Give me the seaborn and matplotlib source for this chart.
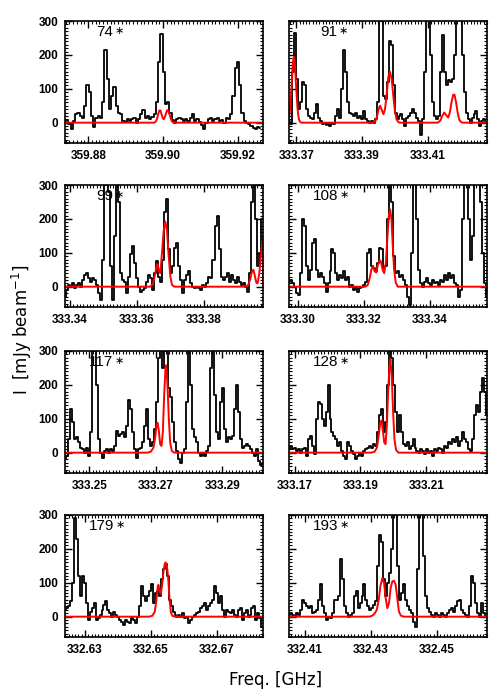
import numpy as np
import pandas as pd
import matplotlib
matplotlib.use("Agg")
import matplotlib.pyplot as plt
from matplotlib.ticker import MultipleLocator
import seaborn as sns

sns.set_style("ticks")
plt.rcParams['font.family'] = ['Liberation Sans', 'DejaVu Sans']
plt.rcParams['text.color'] = 'black'
plt.rcParams['axes.labelcolor'] = 'black'
plt.rcParams['xtick.color'] = 'black'
plt.rcParams['ytick.color'] = 'black'

# ---------------- data ----------------
panel_ids = ['74', '91', '99', '108', '117', '128', '179', '193']

# left / right frequency edge of each panel [GHz]
f_lo = [359.8738, 333.3678, 333.3385, 333.2973, 333.2427, 333.1683, 332.6239, 332.4053]
f_hi = [359.9267, 333.4280, 333.3977, 333.3574, 333.3022, 333.2284, 332.6841, 332.4651]
tick_start = [359.88, 333.37, 333.34, 333.30, 333.25, 333.17, 332.63, 332.41]

chan_width = 0.0006  # GHz, channels start at f_lo

# observed spectra [mJy/beam]
spec_74 = [5, 8, -5, -18, 5, 25, 30, 20, 15, 50, 110, 90, 20, -12, 15, 20, 15, 60, 215, 130,
           40, 80, 105, 50, 30, 25, 5, 3, 10, 5, 12, 15, 0, 10, 25, 38, 15, 20, 10, 18,
           25, 60, 180, 262, 150, 55, 62, 30, 8, 0, 10, 15, 10, 5, 12, 5, 15, 25, 5, 10,
           2, -8, -18, 0, 10, 15, 5, 10, 15, 5, 8, 0, 15, 10, 25, 80, 160, 178, 110, 30,
           5, 0, -5, -10, -15, -18, -12, -15]
spec_91 = [5, -5, 150, 265, 130, 40, 60, 120, 110, 40, 20, 15, 10, 30, 55, 15, 5, -5, 0, -8,
           -5, -10, 0, -5, 20, 40, 15, 100, 215, 150, 60, 30, 25, 20, 30, 15, 20, 10, 35, 10,
           5, 0, 5, -2, 10, 60, 330, 300, 80, 70, 120, 240, 230, 110, 30, 10, 20, 25, 10, -10,
           15, 20, 30, 40, 30, 15, 5, -35, 10, 150, 330, 330, 200, 60, 20, 10, 20, 150, 260, 150,
           110, 125, 120, 130, 200, 310, 330, 330, 200, 90, 30, 10, 0, 15, 25, 35, 10, -10, 5, 10,
           0]
spec_99 = [-30, -10, 5, 0, 10, -5, 5, 10, 0, 20, 35, 40, 25, 15, 25, 20, 5, -20, -40, 80,
           300, 330, 280, 60, -40, 150, 330, 250, 40, 20, 15, -20, 30, 95, 120, 70, 25, 0, -15, -10,
           -5, 15, 35, 25, -10, 40, 75, 30, 15, 80, 220, 260, 110, 40, 60, 115, 130, 60, 20, -20,
           20, 35, 45, 10, 0, -5, 0, -5, -10, 5, 0, 10, 30, 25, 80, 180, 210, 110, 30, 20,
           30, 40, 15, 35, 20, 10, 30, 15, 5, 10, 0, -15, 40, 250, 330, 200, 60, 100, 200]
spec_108 = [15, 20, 10, 0, -20, -25, 40, 200, 180, 60, 20, 50, 130, 140, 50, 30, 40, 30, 10, -15,
            10, 45, 110, 100, 40, 20, 35, 25, 45, 20, 30, 0, 5, -10, 0, -15, -5, 0, 5, 15,
            100, 110, 60, 55, 45, 70, 115, 110, 55, 60, 200, 330, 250, 90, 40, 45, 30, 35, 20, 5,
            -30, -55, 100, 330, 330, 200, 50, 10, 0, 15, 25, 10, 5, 20, 10, 15, 5, 20, 15, 35,
            20, 40, 25, 35, 10, 5, -30, -10, 200, 330, 330, 200, 80, 150, 330, 330, 330, 250, 100, 10,
            -30]
spec_117 = [-20, -10, 40, 130, 90, 40, 45, 30, 15, 10, 0, 15, -10, 60, 300, 330, 200, 40, 0, -15,
            5, 10, 0, 10, 5, 20, 65, 50, 55, 60, 45, 80, 155, 130, 60, 10, -15, 10, 15, 30,
            80, 130, 40, 20, 30, 70, 150, 280, 330, 250, 330, 300, 190, 165, 90, 30, 5, -20, -30, 0,
            10, 150, 330, 200, 70, 45, 30, 0, -10, 0, -10, 5, 20, 250, 330, 170, 60, 40, 150, 190,
            70, 30, 45, 40, 50, 130, 200, 120, 40, 15, 20, 25, 20, 10, 0, -10, 10, -25, -35, -30]
spec_128 = [10, 20, 10, 15, 5, 10, 0, 10, 15, -10, 40, 50, 20, -5, 100, 150, 145, 100, 80, 120,
            200, 100, 60, 50, 40, 20, 30, 5, -10, -20, 30, 20, 5, -5, -20, -10, 0, -10, 5, 10,
            15, 20, 15, 25, 20, 60, 110, 130, 60, 90, 200, 330, 280, 200, 120, 60, 110, 60, 25, 20,
            30, 10, 20, 40, 15, 5, 0, 10, 5, -5, 10, 0, 5, -10, 10, 5, 15, 10, 0, 20,
            15, 30, 25, 40, 30, 45, 20, 35, 60, 40, 30, 10, 5, 40, 110, 140, 120, 180, 220, 180,
            110]
spec_179 = [20, 25, 30, 45, 100, 290, 230, 120, 60, 120, 100, 40, -10, 15, 25, 40, -10, -5, 5, 20,
            35, 45, 20, 10, 0, 15, 5, 0, -10, -15, -25, -10, -15, -20, -5, -10, -20, 0, 30, 90,
            60, 45, 60, 75, 95, 40, 70, 75, 60, 110, 140, 155, 120, 50, 30, 15, 5, 0, 5, 0,
            10, -5, 0, -20, -10, 0, 5, 10, 15, 25, 30, 40, 20, 30, 40, 50, 90, 70, 40, 60,
            20, 0, 20, 15, 10, 20, 5, 0, 20, 25, -10, 10, 20, 0, 5, 25, 30, -10, 10, -5,
            -30]
spec_193 = [5, 10, 5, 0, 10, 5, 20, 50, 40, 30, 25, 30, 10, 15, 20, 50, 95, 30, 10, -10,
            0, -5, 10, 50, 50, 60, 170, 110, 30, 10, 0, 5, 10, 60, 75, 25, 40, 60, 95, 50,
            30, 20, 25, 35, 45, 150, 240, 220, 110, 60, 100, 130, 200, 330, 300, 150, 50, 70, 95, 50,
            30, 20, 10, -15, -30, 140, 330, 330, 180, 60, 25, 15, 5, 0, 10, 5, 0, 10, 5, 0,
            10, 20, 25, 15, 30, 45, 50, 20, 10, 5, 0, 30, 120, 100, 40, 10, 0, 40, 10, 0]

# model (red) spectra: frequency [GHz] and intensity [mJy/beam], zero elsewhere
model_f_74 = [359.8975, 359.8978, 359.8981, 359.8984, 359.8987, 359.8990, 359.8993, 359.8996, 359.8999,
              359.9002, 359.9005, 359.9008, 359.9011, 359.9014, 359.9017, 359.9020, 359.9023, 359.9026,
              359.9029]
model_i_74 = [0, 1, 4, 12, 25, 36, 36, 25, 14, 10, 17, 28, 37, 36, 26, 14, 5, 1, 0]

model_f_91 = [333.3678, 333.3682, 333.3686, 333.3690, 333.3693, 333.3696, 333.3700, 333.3704, 333.3708,
              333.3712, 333.3716,
              333.3935, 333.3941, 333.3946, 333.3951, 333.3955, 333.3960, 333.3965, 333.3970, 333.3975,
              333.3980, 333.3985, 333.3990, 333.3995, 333.4000, 333.4005, 333.4010, 333.4015,
              333.4130, 333.4138, 333.4144, 333.4150, 333.4156, 333.4162, 333.4167, 333.4172, 333.4177,
              333.4181, 333.4186, 333.4191, 333.4196, 333.4202, 333.4208]
model_i_91 = [15, 45, 110, 180, 195, 170, 100, 40, 10, 2, 0,
              0, 5, 20, 42, 50, 38, 25, 40, 85, 135, 150, 130, 80, 35, 10, 2, 0,
              0, 6, 20, 30, 22, 15, 30, 60, 82, 83, 60, 28, 8, 1, 0]

model_f_99 = [333.3640, 333.3648, 333.3654, 333.3659, 333.3662, 333.3666, 333.3670, 333.3675, 333.3680,
              333.3685, 333.3690, 333.3695, 333.3700, 333.3705, 333.3712,
              333.3925, 333.3933, 333.3939, 333.3944, 333.3948, 333.3952, 333.3957, 333.3961, 333.3966,
              333.3971, 333.3977]
model_i_99 = [0, 8, 35, 62, 66, 45, 40, 100, 165, 192, 165, 90, 30, 5, 0,
              0, 5, 22, 45, 50, 35, 12, 10, 40, 95, 148]

model_f_108 = [333.3205, 333.3212, 333.3218, 333.3223, 333.3228, 333.3233, 333.3238, 333.3243, 333.3248,
               333.3252, 333.3257, 333.3262, 333.3267, 333.3272, 333.3276, 333.3280, 333.3284, 333.3288,
               333.3292, 333.3297, 333.3303]
model_i_108 = [0, 5, 25, 50, 61, 45, 42, 65, 78, 75, 50, 40, 70, 150, 210, 228, 200, 120, 50, 12, 0]

model_f_117 = [333.2675, 333.2685, 333.2693, 333.2698, 333.2702, 333.2705, 333.2709, 333.2713, 333.2717,
               333.2721, 333.2725, 333.2729, 333.2731, 333.2735, 333.2739, 333.2743, 333.2748, 333.2755]
model_i_117 = [0, 3, 15, 45, 80, 88, 65, 25, 20, 60, 170, 250, 258, 200, 100, 30, 5, 0]

model_f_128 = [333.1933, 333.1943, 333.1950, 333.1956, 333.1960, 333.1964, 333.1968, 333.1972, 333.1976,
               333.1980, 333.1984, 333.1988, 333.1991, 333.1995, 333.1999, 333.2003, 333.2008, 333.2015]
model_i_128 = [0, 3, 15, 55, 88, 95, 65, 30, 25, 80, 180, 255, 275, 220, 120, 40, 8, 0]

model_f_179 = [332.6495, 332.6505, 332.6512, 332.6517, 332.6521, 332.6523, 332.6527, 332.6530, 332.6534,
               332.6538, 332.6542, 332.6545, 332.6549, 332.6553, 332.6557, 332.6561, 332.6566, 332.6575]
model_i_179 = [0, 3, 15, 50, 88, 94, 75, 68, 90, 130, 155, 160, 150, 110, 50, 12, 2, 0]

model_f_193 = [332.4295, 332.4305, 332.4312, 332.4318, 332.4324, 332.4329, 332.4335, 332.4340, 332.4345,
               332.4350, 332.4355, 332.4360, 332.4365, 332.4370, 332.4375, 332.4380, 332.4385, 332.4391,
               332.4400]
model_i_193 = [0, 3, 10, 20, 50, 90, 114, 100, 55, 25, 40, 85, 104, 106, 95, 55, 15, 3, 0]

spectra = [spec_74, spec_91, spec_99, spec_108, spec_117, spec_128, spec_179, spec_193]
model_f = [model_f_74, model_f_91, model_f_99, model_f_108, model_f_117, model_f_128, model_f_179, model_f_193]
model_i = [model_i_74, model_i_91, model_i_99, model_i_108, model_i_117, model_i_128, model_i_179, model_i_193]

# ---------------- figure ----------------
fig = plt.figure(figsize=(5, 7), dpi=100)
col_x = [0.13, 0.578]
row_y = [0.7957, 0.5614, 0.3243, 0.09]
ax_w, ax_h = 0.396, 0.1743

tick_font = dict(family=['Liberation Sans', 'DejaVu Sans'], size=8.5, weight='bold', color='black')

for k in range(8):
    r, c = divmod(k, 2)
    ax = fig.add_axes([col_x[c], row_y[r], ax_w, ax_h])

    spec = np.array(spectra[k], dtype=float)
    freq = f_lo[k] + chan_width * np.arange(len(spec))
    df_obs = pd.DataFrame({'freq': freq, 'I': spec})
    sns.lineplot(data=df_obs, x='freq', y='I', ax=ax, color='black', lw=1.3,
                 drawstyle='steps-mid', estimator=None, sort=False)

    mf = [f_lo[k]] + model_f[k] + [f_hi[k]]
    mi = [model_i[k][0]] + model_i[k] + [0]
    df_mod = pd.DataFrame({'freq': mf, 'I': mi})
    sns.lineplot(data=df_mod, x='freq', y='I', ax=ax, color='#ff0000', lw=1.4,
                 estimator=None, sort=False)

    ax.set_xlim(f_lo[k], f_hi[k])
    ax.set_ylim(-60, 300)
    ax.set_xlabel('')
    ax.set_ylabel('')

    t0 = tick_start[k]
    ax.set_xticks([t0, t0 + 0.02, t0 + 0.04])
    ax.set_xticklabels([f'{t:.2f}' for t in (t0, t0 + 0.02, t0 + 0.04)], **tick_font)
    ax.xaxis.set_minor_locator(MultipleLocator(0.001))
    ax.set_yticks([0, 100, 200, 300])
    ax.yaxis.set_minor_locator(MultipleLocator(10))
    if c == 0:
        ax.set_yticklabels(['0', '100', '200', '300'], **tick_font)
    else:
        ax.set_yticklabels([])

    ax.tick_params(which='both', direction='in', top=True, right=True, color='black')
    ax.tick_params(which='major', length=5, width=1.0, pad=5)
    ax.tick_params(which='minor', length=2.2, width=0.8)
    for sp in ax.spines.values():
        sp.set_linewidth(1.2)
        sp.set_color('black')

    # panel label: number plus a small centred asterisk
    lx = 0.157 if len(panel_ids[k]) == 2 else 0.121
    num = ax.text(lx, 0.91, panel_ids[k], transform=ax.transAxes,
                  ha='left', va='center', fontsize=11, color='black',
                  family=['Liberation Sans', 'DejaVu Sans'])
    ax.annotate('\u2217', xy=(1, 0.55), xycoords=num, xytext=(1, 0),
                textcoords='offset points', ha='left', va='center',
                fontsize=8, color='black', family='DejaVu Sans')

fig.text(0.044, 0.529, 'I  [mJy beam$^{-1}$]', rotation=90, ha='center', va='center',
         fontsize=12, family='DejaVu Sans', color='black')
fig.text(0.552, 0.029, 'Freq. [GHz]', ha='center', va='center',
         fontsize=12, family='DejaVu Sans', color='black')

fig.savefig('out.png', dpi=100, facecolor='white')
